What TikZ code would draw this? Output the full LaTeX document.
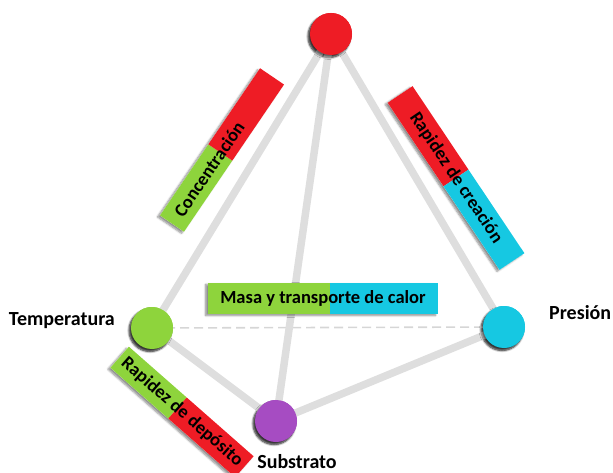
\documentclass[tikz,border=0pt]{standalone}
\usepackage{fontspec}
\setmainfont{Carlito}
\usetikzlibrary{shadows.blur}
\definecolor{cred}{HTML}{EE1C25}
\definecolor{cgreen}{HTML}{8ED43C}
\definecolor{ccyan}{HTML}{16C8E2}
\definecolor{cpurple}{HTML}{A64CC2}
\definecolor{cedge}{HTML}{DEDEDE}
\definecolor{cdash}{HTML}{D6D6D6}
\tikzset{
  vertex/.style={circle, minimum size=42pt, inner sep=0pt,
    blur shadow={shadow xshift=-2pt, shadow yshift=-2.5pt, shadow blur steps=6, shadow opacity=55}},
  edge/.style={line width=7.5pt, cedge},
  dashedge/.style={line width=1.6pt, cdash, dash pattern=on 9pt off 5pt},
  vlabel/.style={font=\bfseries\fontsize{20}{24}\selectfont, inner sep=0pt},
  barbase/.style={rectangle, minimum height=29pt, inner sep=0pt, fill=white,
    blur shadow={shadow xshift=-2.5pt, shadow yshift=-1.5pt, shadow blur steps=6, shadow opacity=45}},
  bartext/.style={font=\bfseries\fontsize{18.5}{22}\selectfont, inner sep=0pt, transform shape}
}
\begin{document}
\begin{tikzpicture}[x=1pt, y=1pt]
\useasboundingbox (0,0) rectangle (613,-473);

% vertices
\node[vertex, fill=cred]    (top)  at (331,-34)  {};
\node[vertex, fill=cgreen]  (temp) at (152,-328) {};
\node[vertex, fill=ccyan]   (pres) at (504,-327) {};
\node[vertex, fill=cpurple] (sub)  at (276,-421) {};

% edges of the tetrahedron
\draw[dashedge] (temp.center) -- (pres.center);
\draw[edge] (top.center) -- (temp.center);
\draw[edge] (top.center) -- (pres.center);
\draw[edge] (top.center) -- (sub.center);
\draw[edge] (temp.center) -- (sub.center);
\draw[edge] (pres.center) -- (sub.center);

% redraw vertices above the edges
\node[vertex, fill=cred]    at (top.center)  {};
\node[vertex, fill=cgreen]  at (temp.center) {};
\node[vertex, fill=ccyan]   at (pres.center) {};
\node[vertex, fill=cpurple] at (sub.center)  {};

% vertex labels
\node[vlabel, anchor=east] (ltemp) at (115,-321) {Temperatura};
\node[vlabel, anchor=west] (lpres) at (549,-313) {Presión};
\node[vlabel] (lsub) at (297,-461.5) {Substrato};

% Concentración bar
\begin{scope}[shift={(222,-150)}, rotate=55.8]
  \node[barbase, minimum width=178pt, transform shape] (conc) at (0,0) {};
  \fill[cgreen] (-89,-14.5) rectangle (-3,14.5);
  \fill[cred] (-3,-14.5) rectangle (89,14.5);
  \node[bartext] (conct) at (-23,0) {Concentración};
\end{scope}

% Rapidez de creación bar
\begin{scope}[shift={(456,-178)}, rotate=-56.2]
  \node[barbase, minimum width=201pt, minimum height=30pt, transform shape] (crea) at (0,0) {};
  \fill[cred] (-100.5,-15) rectangle (0,15);
  \fill[ccyan] (0,-15) rectangle (100.5,15);
  \node[bartext] (creat) at (0,0) {Rapidez de creación};
\end{scope}

% Masa y transporte de calor bar
\begin{scope}[shift={(323,-298.5)}]
  \node[barbase, minimum width=230pt, minimum height=31pt] (masa) at (0,0) {};
  \fill[cgreen] (-115,-15.5) rectangle (7,15.5);
  \fill[ccyan] (7,-15.5) rectangle (115,15.5);
  \node[bartext] (masat) at (0,0) {Masa y transporte de calor};
\end{scope}

% Rapidez de depósito bar
\begin{scope}[shift={(182,-412)}, rotate=-41.3]
  \node[barbase, minimum width=166pt, minimum height=28pt, transform shape] (depo) at (0,0) {};
  \fill[cgreen] (-83,-14) rectangle (-6,14);
  \fill[cred] (-6,-14) rectangle (83,14);
  \node[bartext] (depot) at (0,0) {Rapidez de depósito};
\end{scope}
\end{tikzpicture}
\end{document}
